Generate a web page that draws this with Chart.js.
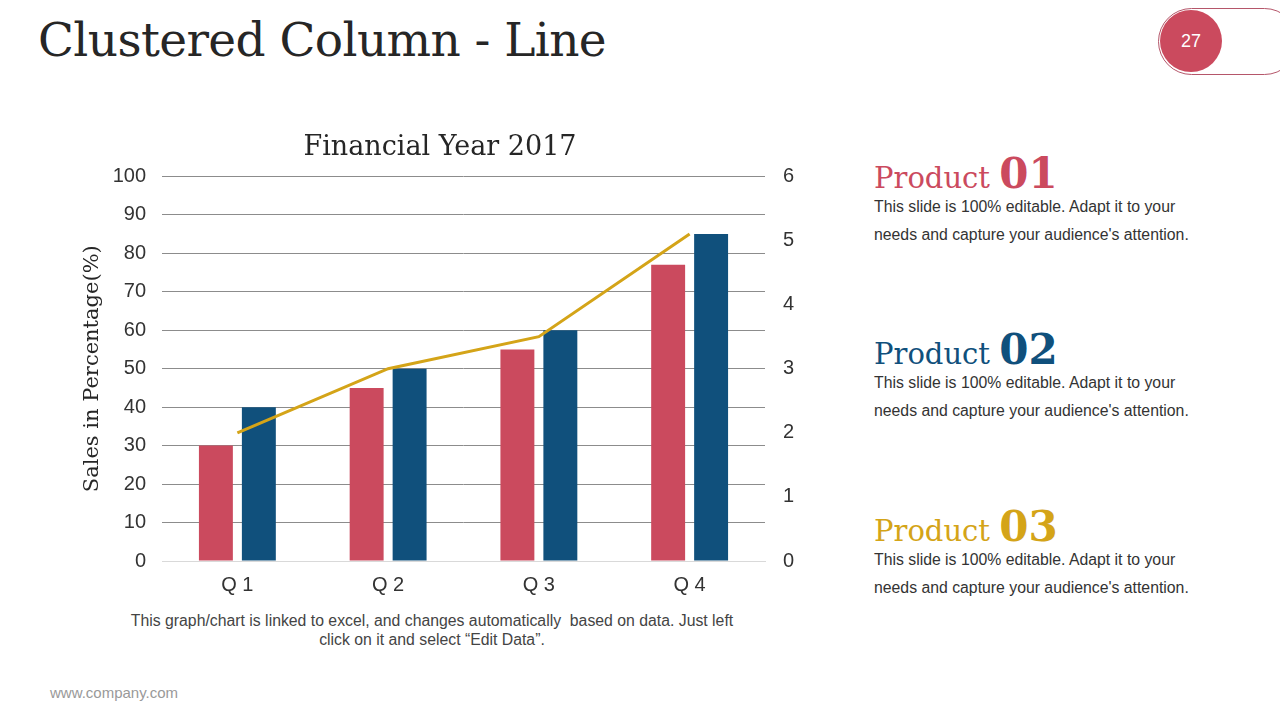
<!DOCTYPE html>
<html><head><meta charset="utf-8">
<script src="https://cdn.jsdelivr.net/npm/chart.js@4/dist/chart.umd.min.js"></script>
<style>
html,body{margin:0;padding:0;background:#fff;width:1280px;height:720px;overflow:hidden;font-family:"Liberation Sans",Arial,sans-serif;}
#title{position:absolute;left:38px;top:12px;font-family:"DejaVu Serif",Georgia,serif;font-size:47px;color:#262626;white-space:nowrap;letter-spacing:-0.6px}
#pg{position:absolute;left:1158px;top:8px;width:140px;height:67px;border:1px solid #b5566a;border-radius:34px;box-sizing:border-box}
#pgc{position:absolute;left:1160px;top:10px;width:62px;height:62px;border-radius:50%;background:#cb4a5e;color:#fff;font-size:18px;line-height:62px;text-align:center}
#wrap{position:absolute;left:60px;top:126px;width:760px;height:483px}
.prod{position:absolute;left:874px;width:380px}
.prod .h{font-family:"DejaVu Serif",Georgia,serif;font-size:29px;line-height:29px;white-space:nowrap}
.prod .h b{font-size:42px}
.prod .t{font-size:15.8px;color:#333;line-height:28px;margin-top:0px}
#note{position:absolute;left:102px;top:611px;width:660px;text-align:center;font-size:15.8px;color:#444;line-height:19px}
#web{position:absolute;left:50px;top:684px;font-size:15px;color:#999}
</style></head><body>
<div id="title">Clustered Column - Line</div>
<div id="pg"></div><div id="pgc">27</div>
<div id="wrap"><canvas id="c" width="760" height="483"></canvas></div>
<div class="prod" style="top:159px"><div class="h" style="color:#cb4a5e">Product <b>01</b></div><div class="t">This slide is 100% editable. Adapt it to your<br>needs and capture your audience's attention.</div></div>
<div class="prod" style="top:335px"><div class="h" style="color:#10507c">Product <b>02</b></div><div class="t">This slide is 100% editable. Adapt it to your<br>needs and capture your audience's attention.</div></div>
<div class="prod" style="top:512px"><div class="h" style="color:#d4a418">Product <b>03</b></div><div class="t">This slide is 100% editable. Adapt it to your<br>needs and capture your audience's attention.</div></div>
<div id="note">This graph/chart is linked to excel, and changes automatically &nbsp;based on data. Just left<br>click on it and select “Edit Data”.</div>
<div id="web">www.company.com</div>
<script>
const categories = ["Q 1","Q 2","Q 3","Q 4"];
const series1 = [30,45,55,77];
const series2 = [40,50,60,85];
const lineSeries = [2.0,3.0,3.5,5.1];
const leftTicks = {min:0,max:100,step:10};
const rightTicks = {min:0,max:6,step:1};

new Chart(document.getElementById('c'),{
  data:{labels:categories,datasets:[
    {type:'line',label:'Series 3',data:lineSeries,yAxisID:'y1',borderColor:'#d4a418',borderWidth:3,pointRadius:0,tension:0,order:0},
    {type:'bar',label:'Series 1',data:series1,yAxisID:'y',backgroundColor:'#cb4a5e',categoryPercentage:0.57,barPercentage:0.79,order:1},
    {type:'bar',label:'Series 2',data:series2,yAxisID:'y',backgroundColor:'#10507c',categoryPercentage:0.57,barPercentage:0.79,order:1}
  ]},
  options:{responsive:false,animation:false,
    layout:{padding:{left:0,right:0,top:0,bottom:0}},
    plugins:{legend:{display:false},tooltip:{enabled:false},
      title:{display:true,text:'Financial Year 2017',color:'#262626',font:{family:'"DejaVu Serif", Georgia, serif',size:27,weight:'normal'},padding:{top:6,bottom:12}}},
    scales:{
      x:{grid:{display:false,drawTicks:false},border:{display:true,color:'#d9d9d9',width:1},
        ticks:{color:'#333',font:{family:'"Liberation Sans", Arial',size:20},padding:12}},
      y:{position:'left',min:leftTicks.min,max:leftTicks.max,
        ticks:{stepSize:leftTicks.step,color:'#333',font:{family:'"Liberation Sans", Arial',size:20},padding:16},
        grid:{color:'#8c8c8c',lineWidth:1,drawTicks:false},border:{display:false},
        title:{display:true,text:'Sales in Percentage(%)',color:'#262626',font:{family:'"DejaVu Serif", Georgia, serif',size:21},padding:{top:20,bottom:0}},
        afterFit(s){s.width=102;}},
      y1:{position:'right',min:rightTicks.min,max:rightTicks.max,
        ticks:{stepSize:rightTicks.step,color:'#333',font:{family:'"Liberation Sans", Arial',size:20},padding:18},
        grid:{display:false,drawTicks:false},border:{display:false},
        afterFit(s){s.width=55;}}
    }
  }
});
</script>
</body></html>
